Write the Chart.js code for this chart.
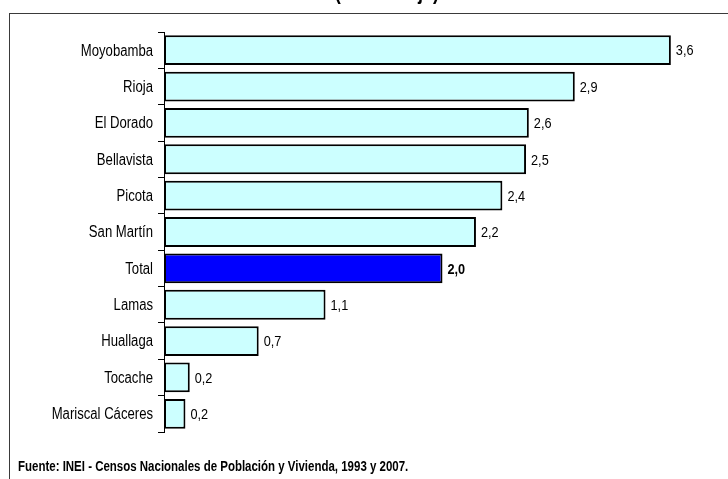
<!DOCTYPE html>
<html>
<head>
<meta charset="utf-8">
<script src="https://cdn.jsdelivr.net/npm/chart.js@4"></script>
<style>
  html, body { margin: 0; padding: 0; background: #ffffff; }
  #wrap { width: 728px; height: 479px; position: relative; }
</style>
</head>
<body>
<div id="wrap"><canvas id="c"></canvas></div>
<script>
const categories = ["Moyobamba", "Rioja", "El Dorado", "Bellavista", "Picota", "San Martín", "Total", "Lamas", "Huallaga", "Tocache", "Mariscal Cáceres"];
const values = [3.64, 2.95, 2.62, 2.60, 2.43, 2.24, 2.00, 1.16, 0.68, 0.185, 0.154];
const valueLabels = ["3,6", "2,9", "2,6", "2,5", "2,4", "2,2", "2,0", "1,1", "0,7", "0,2", "0,2"];
const highlight = "Total";
const titleText = "(Porcentaje)";
const sourceText = "Fuente: INEI - Censos Nacionales de Población y Vivienda, 1993 y 2007.";

const FONT = "'Liberation Sans', Arial, sans-serif";
const NARROW = 0.82; // condensed look of the original (Arial Narrow)
Chart.defaults.font.family = FONT;
Chart.defaults.color = "#000000";

function narrowText(ctx, text, x, y, font, align) {
  ctx.save();
  ctx.font = font;
  ctx.textAlign = align;
  ctx.translate(x, y);
  ctx.scale(NARROW, 1);
  ctx.fillText(text, 0, 0);
  ctx.restore();
}

const decorPlugin = {
  id: "decor",
  beforeDraw(chart) {
    const ctx = chart.ctx;
    ctx.save();
    ctx.fillStyle = "#ffffff";
    ctx.fillRect(0, 0, chart.width, chart.height);
    ctx.strokeStyle = "#3a3a3a";
    ctx.lineWidth = 1;
    ctx.strokeRect(9.5, 13.5, 900, 900);
    ctx.fillStyle = "#000000";
    ctx.textBaseline = "alphabetic";
    narrowText(ctx, titleText, 387, -1, "bold 22px " + FONT, "center");
    narrowText(ctx, sourceText, 18, 471, "bold 14px " + FONT, "left");
    ctx.restore();
  },
  afterDraw(chart) {
    const ctx = chart.ctx;
    const yScale = chart.scales.y;
    ctx.save();
    ctx.fillStyle = "#000000";
    ctx.textBaseline = "middle";
    categories.forEach((c, i) => {
      narrowText(ctx, c, yScale.right - 11, yScale.getPixelForValue(i) + 1, "16px " + FONT, "right");
    });
    const meta = chart.getDatasetMeta(0);
    meta.data.forEach((bar, i) => {
      const bold = categories[i] === highlight;
      narrowText(ctx, valueLabels[i], bar.x + 5, bar.y + 1, (bold ? "bold " : "") + "15.5px " + FONT, "left");
    });
    ctx.restore();
  }
};

new Chart(document.getElementById("c"), {
  type: "bar",
  data: {
    labels: categories,
    datasets: [{
      data: values,
      backgroundColor: categories.map(c => c === highlight ? "#0000ff" : "#ccffff"),
      borderColor: "#000000",
      borderWidth: 2,
      borderSkipped: false,
      barPercentage: 0.82,
      categoryPercentage: 1.0
    }]
  },
  options: {
    indexAxis: "y",
    responsive: true,
    maintainAspectRatio: false,
    animation: false,
    layout: { padding: { top: 32, bottom: 47, left: 0, right: 7 } },
    plugins: { legend: { display: false }, tooltip: { enabled: false }, title: { display: false } },
    scales: {
      x: { display: false, min: 0, max: 4 },
      y: {
        afterFit(scale) { scale.width = 164; },
        grid: { display: true, offset: true, drawOnChartArea: false, drawTicks: true, tickLength: 6, color: "#000000", lineWidth: 1 },
        border: { display: true, color: "#000000", width: 1 },
        ticks: { display: false, autoSkip: false }
      }
    }
  },
  plugins: [decorPlugin]
});
</script>
</body>
</html>
